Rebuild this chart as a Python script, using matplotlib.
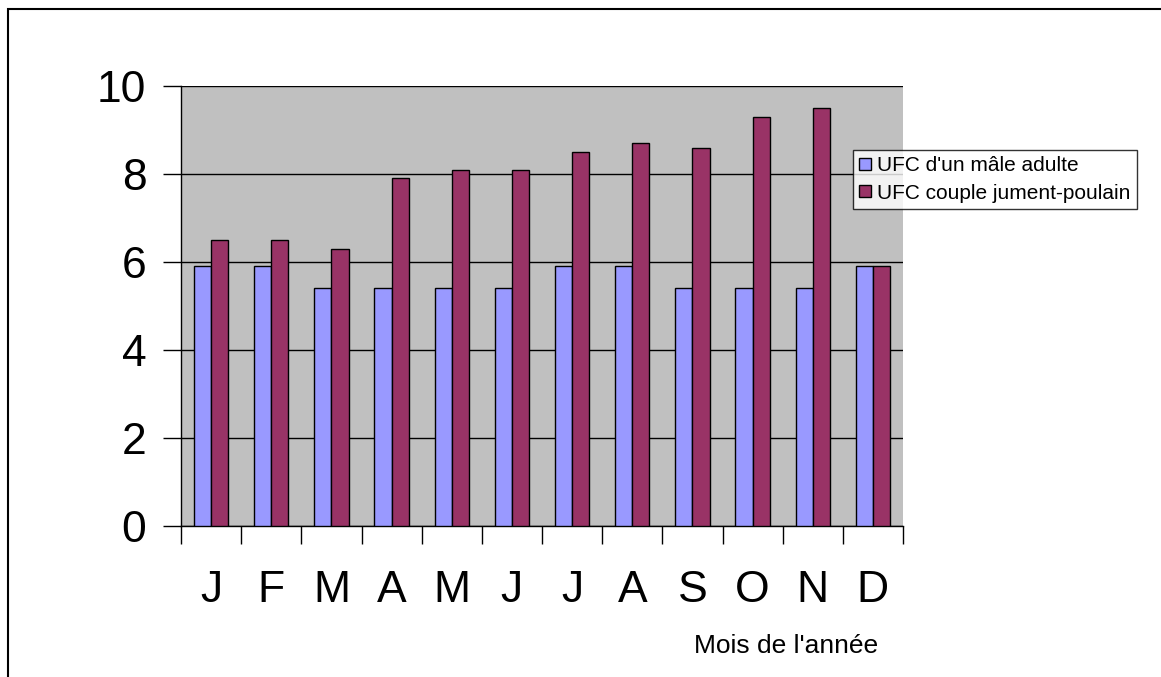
import numpy as np
import matplotlib
matplotlib.use('Agg')
import matplotlib.pyplot as plt
from matplotlib.patches import Rectangle

months = ['J', 'F', 'M', 'A', 'M', 'J', 'J', 'A', 'S', 'O', 'N', 'D']
male_adult = [5.9, 5.9, 5.4, 5.4, 5.4, 5.4, 5.9, 5.9, 5.4, 5.4, 5.4, 5.9]
mare_foal = [6.5, 6.5, 6.3, 7.9, 8.1, 8.1, 8.5, 8.7, 8.6, 9.3, 9.5, 5.9]
series_names = ["UFC d'un mâle adulte", "UFC couple jument-poulain"]

plt.rcParams['font.family'] = ['Liberation Sans', 'DejaVu Sans']

W, H = 1161, 677
fig = plt.figure(figsize=(W / 100, H / 100), dpi=100)
ax = fig.add_axes([181 / W, 1 - 526 / H, 722 / W, 440 / H])
ax.set_facecolor('#C0C0C0')

x = np.arange(len(months))
bw = 1 / 3.5
ax.bar(x - bw / 2, male_adult, bw, color='#9999FF', edgecolor='black', linewidth=1,
       label=series_names[0], zorder=3)
ax.bar(x + bw / 2, mare_foal, bw, color='#993366', edgecolor='black', linewidth=1,
       label=series_names[1], zorder=3)

ax.set_xlim(-0.5, len(months) - 0.5)
ax.set_ylim(0, 10)
ax.set_yticks(range(0, 11, 2))
ax.yaxis.grid(True, color='black', linewidth=1, zorder=1)
ax.set_axisbelow(True)

# category boundary ticks, labels in the middle
ax.set_xticks(np.arange(-0.5, len(months), 1))
ax.set_xticklabels([])
ax.set_xticks(x, minor=True)
ax.set_xticklabels(months, minor=True)
ax.tick_params(axis='x', which='major', direction='out', length=13, width=1)
ax.tick_params(axis='x', which='minor', length=0, labelsize=32, pad=32)
ax.tick_params(axis='y', direction='out', length=13, width=1, labelsize=32, pad=12)

for s in ['top', 'right']:
    ax.spines[s].set_visible(False)
for s in ['left', 'bottom']:
    ax.spines[s].set_linewidth(1)

fig.text(878 / W, 1 - 646 / H, "Mois de l'année", ha='right', va='center', fontsize=19)

leg = fig.legend(loc='upper left', bbox_to_anchor=(853 / W, 1 - 150 / H),
                 fontsize=15, frameon=True, fancybox=False, handlelength=0.55,
                 handleheight=0.55, handletextpad=0.3, borderpad=0.3,
                 labelspacing=0.4, borderaxespad=0)
leg.get_frame().set_edgecolor('black')
leg.get_frame().set_linewidth(1)

fig.add_artist(Rectangle((8 / W, -0.1), 1.2, 1 - 9 / H + 0.1, transform=fig.transFigure,
                         fill=False, edgecolor='black', linewidth=1.5))

fig.savefig('out.png', dpi=100)
